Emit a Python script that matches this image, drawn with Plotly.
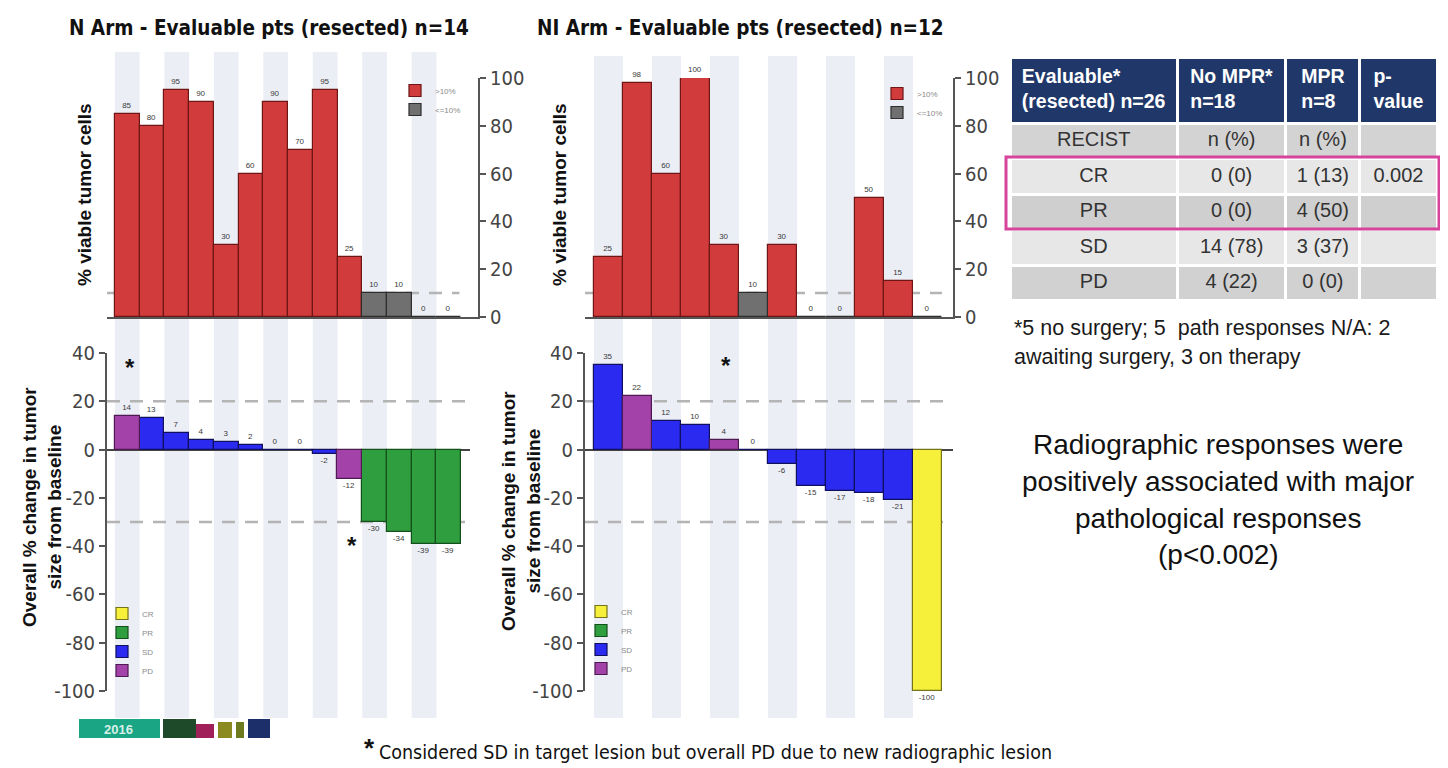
import plotly.graph_objects as go

# figure is placed by the page at (8, 8); coordinates below are page pixels
OFF = 8
W, H = 1440, 760
def px(x): return (x - OFF) / W
def py(y): return 1 - (y - OFF) / H

# ---------------- data ----------------
n_patients = list(range(14))
n_viable = [85, 80, 95, 90, 30, 60, 90, 70, 95, 25, 10, 10, 0, 0]
n_change = [14, 13, 7, 4, 3, 2, 0, 0, -2, -12, -30, -34, -39, -39]
n_recist = ["PD", "SD", "SD", "SD", "SD", "SD", "SD", "SD", "SD", "PD", "PR", "PR", "PR", "PR"]

ni_patients = list(range(12))
ni_viable = [25, 98, 60, 100, 30, 10, 30, 0, 0, 50, 15, 0]
ni_change = [35, 22, 12, 10, 4, 0, -6, -15, -17, -18, -21, -100]
ni_recist = ["SD", "PD", "SD", "SD", "PD", "SD", "SD", "SD", "SD", "SD", "SD", "CR"]

viable_cut = 10
recist_order = ["CR", "PR", "SD", "PD"]
viable_ticks = [0, 20, 40, 60, 80, 100]
change_ticks = [-100, -80, -60, -40, -20, 0, 20, 40]

table_header = ["Evaluable*<br>(resected) n=26", "No MPR*<br>n=18", "MPR<br>n=8", "p-<br>value"]
table_rows = ["RECIST", "CR", "PR", "SD", "PD"]
table_no_mpr = ["n (%)", "0 (0)", "0 (0)", "14 (78)", "4 (22)"]
table_mpr = ["n (%)", "1 (13)", "4 (50)", "3 (37)", "0 (0)"]
table_p = ["", "0.002", "", "", ""]

# ---------------- styles ----------------
FONT = "Arial, 'Liberation Sans', sans-serif"
NARROW = "'Liberation Sans Narrow', 'Arial Narrow', 'DejaVu Sans Condensed', Arial, sans-serif"
path_colors = {">10%": ("#d23b3b", "#6e1515"), "<=10%": ("#707070", "#2e2e2e")}
recist_colors = {"CR": ("#f6f03a", "#76741a"), "PR": ("#2f9e3e", "#14501c"),
                 "SD": ("#2a2af0", "#10105e"), "PD": ("#a342a8", "#4e1a52")}
label_font = dict(size=8, color="#3a3a3a", family=FONT)

fig = go.Figure()

def add_path(xs, vals, xa, ya, leg):
    for name in [">10%", "<=10%"]:
        keep = [(v > viable_cut) == (name == ">10%") for v in vals]
        ys = [v if k else None for v, k in zip(vals, keep)]
        ts = [str(v) if k else "" for v, k in zip(vals, keep)]
        fc, lc = path_colors[name]
        fig.add_trace(go.Bar(x=xs, y=ys, name=name, xaxis=xa, yaxis=ya, legend=leg,
                             marker=dict(color=fc, line=dict(color=lc, width=1.2)),
                             text=ts, textposition="outside", textfont=label_font,
                             constraintext="none", cliponaxis=False, width=1))

def add_resp(xs, vals, cats, xa, ya, leg):
    for name in recist_order:
        ys = [v if c == name else None for v, c in zip(vals, cats)]
        ts = [str(v) if c == name else "" for v, c in zip(vals, cats)]
        fc, lc = recist_colors[name]
        fig.add_trace(go.Bar(x=xs, y=ys, name=name, xaxis=xa, yaxis=ya, legend=leg,
                             marker=dict(color=fc, line=dict(color=lc, width=1.2)),
                             text=ts, textposition="outside", textfont=label_font,
                             constraintext="none", cliponaxis=False, width=1))

add_path(n_patients, n_viable, "x", "y", "legend")
add_path(ni_patients, ni_viable, "x2", "y2", "legend2")
add_resp(n_patients, n_change, n_recist, "x3", "y3", "legend3")
add_resp(ni_patients, ni_change, ni_recist, "x4", "y4", "legend4")

# table
fill_rows = ["#d3d3d3", "#e7e7e7", "#cfcfcf", "#e7e7e7", "#d1d1d1"]
fig.add_trace(go.Table(
    domain=dict(x=[px(1010), px(1437)], y=[py(302), py(57)]),
    columnwidth=[165, 107, 73, 76],
    header=dict(values=["<b>%s</b>" % h for h in table_header], fill_color="#1f3869",
                font=dict(color="white", size=19.5, family=FONT), height=66, align="center",
                line=dict(color="white", width=3)),
    cells=dict(values=[table_rows, table_no_mpr, table_mpr, table_p],
               fill_color=[fill_rows] * 4, height=35.5, align="center",
               font=dict(size=20, color="#333333", family=FONT),
               line=dict(color="white", width=3)),
))

# ---------------- axes ----------------
top_dom = [py(317), py(78)]
bot_dom = [py(691), py(353)]
ytick = dict(color="#444444", size=20, family=NARROW)
xcommon = dict(showgrid=False, zeroline=False, fixedrange=True, automargin=False,
               showticklabels=False, ticks="", linecolor="#555555", linewidth=2)
ycommon = dict(showgrid=False, fixedrange=True, automargin=False, showline=True,
               linecolor="#555555", linewidth=2, ticks="outside", ticklen=6, tickwidth=2,
               tickcolor="#555555", tickfont=ytick)
fig.update_layout(
    xaxis=dict(domain=[px(107), px(478)], range=[-0.82, 14.18], anchor="y", showline=True, **xcommon),
    yaxis=dict(domain=top_dom, range=[0, 100], anchor="x", side="right", zeroline=False,
               tickvals=viable_ticks, ticktext=[str(t) for t in viable_ticks], **ycommon),
    xaxis2=dict(domain=[px(585), px(953)], range=[-0.81, 11.88], anchor="y2", showline=True, **xcommon),
    yaxis2=dict(domain=top_dom, range=[0, 100], anchor="x2", side="right", zeroline=False,
                tickvals=viable_ticks, ticktext=[str(t) for t in viable_ticks], **ycommon),
    xaxis3=dict(domain=[px(107), px(470)], range=[-0.82, 13.86], anchor="y3", showline=False, **xcommon),
    yaxis3=dict(domain=bot_dom, range=[-100, 40], anchor="x3", side="left",
                tickvals=change_ticks, ticktext=[str(t) for t in change_ticks],
                zeroline=True, zerolinecolor="#444444", zerolinewidth=2, **ycommon),
    xaxis4=dict(domain=[px(585), px(953)], range=[-0.81, 11.88], anchor="y4", showline=False, **xcommon),
    yaxis4=dict(domain=bot_dom, range=[-100, 40], anchor="x4", side="left",
                tickvals=change_ticks, ticktext=[str(t) for t in change_ticks],
                zeroline=True, zerolinecolor="#444444", zerolinewidth=2, **ycommon),
)

leg_common = dict(bgcolor="rgba(0,0,0,0)", borderwidth=0, font=dict(size=8, color="#8a8a8a", family=FONT),
                  xanchor="left", yanchor="top", tracegroupgap=0, itemclick=False)
fig.update_layout(
    legend=dict(x=px(395), y=py(76), **leg_common),
    legend2=dict(x=px(877), y=py(79), **leg_common),
    legend3=dict(x=px(102), y=py(599), **leg_common),
    legend4=dict(x=px(581), y=py(597), **leg_common),
)

# ---------------- shapes ----------------
shapes = []
stripe = "#eceef6"
for i in n_patients[::2]:
    shapes.append(dict(type="rect", xref="x", yref="paper", x0=i - 0.5, x1=i + 0.5,
                       y0=py(718), y1=py(52), fillcolor=stripe, line=dict(width=0), layer="below"))
for i in ni_patients[::2]:
    shapes.append(dict(type="rect", xref="x2", yref="paper", x0=i - 0.5, x1=i + 0.5,
                       y0=py(718), y1=py(56), fillcolor=stripe, line=dict(width=0), layer="below"))
dash = dict(color="#b4b4b4", width=2.5, dash="13px,10px")
for xr, yr, lvl, x1 in [("x", "y", viable_cut, 0.95), ("x2", "y2", viable_cut, 0.97),
                        ("x3", "y3", 20, 1), ("x3", "y3", -30, 1), ("x4", "y4", 20, 1), ("x4", "y4", -30, 1)]:
    shapes.append(dict(type="line", xref=xr + " domain", yref=yr, x0=0, x1=x1, y0=lvl, y1=lvl,
                       line=dash, layer="below"))
# table highlight
shapes.append(dict(type="rect", xref="paper", yref="paper", x0=px(1006), x1=px(1439),
                   y0=py(229), y1=py(157), line=dict(color="#d6449b", width=3)))
# cropped congress logo
logo = [(79, 160, 719, "#1aa584"), (163, 196, 719, "#1f4a2a"), (196, 214, 724, "#a0205a"),
        (218, 232, 722, "#8a8a20"), (236, 244, 722, "#6e7a1e"), (248, 270, 719, "#1c2f6a")]
for x0, x1, y1, c in logo:
    shapes.append(dict(type="rect", xref="paper", yref="paper", x0=px(x0), x1=px(x1),
                       y0=py(738), y1=py(y1), fillcolor=c, line=dict(width=0)))
fig.update_layout(shapes=shapes)

# ---------------- annotations ----------------
ann = []
def A(text, x, y, size, color="#111111", family=FONT, xanchor="center", yanchor="middle", **kw):
    ann.append(dict(text=text, x=px(x), y=py(y), xref="paper", yref="paper", showarrow=False,
                    xanchor=xanchor, yanchor=yanchor, font=dict(size=size, color=color, family=family), **kw))

A("<b>N Arm - Evaluable pts (resected) n=14</b>", 67, 28, 20.5, family=NARROW, xanchor="left")
A("<b>NI Arm - Evaluable pts (resected) n=12</b>", 535, 28, 20.5, family=NARROW, xanchor="left")
A("<b>% viable tumor cells</b>", 85, 195, 19, textangle=-90)
A("<b>% viable tumor cells</b>", 560, 195, 19, textangle=-90)
A("<b>Overall % change in tumor<br>size from baseline</b>", 42, 507, 19, textangle=-90)
A("<b>Overall % change in tumor<br>size from baseline</b>", 521, 511, 19, textangle=-90)
A("*5 no surgery; 5  path responses N/A: 2", 1012, 328, 21.5, color="#1a1a1a", xanchor="left")
A("awaiting surgery, 3 on therapy", 1012, 357, 21.5, color="#1a1a1a", xanchor="left")
for t, yy in [("Radiographic responses were", 444), ("positively associated with major", 481),
              ("pathological responses", 518), ("(p<0.002)", 554)]:
    A(t, 1218, yy, 28, color="#111111")
A("<b>*</b>", 369, 748, 26, color="#111111")
A("Considered SD in target lesion but overall PD due to new radiographic lesion", 377, 752, 19.5,
  color="#111111", family=NARROW, xanchor="left")
A("<b>*</b>", 130, 367, 24)
A("<b>*</b>", 352, 545, 24)
A("<b>*</b>", 726, 365, 24)
A("<b>2016</b>", 118, 729, 13, color="#d8f0e8")
fig.update_layout(annotations=ann)

fig.update_layout(width=W, height=H, margin=dict(l=0, r=0, t=0, b=0, autoexpand=False),
                  paper_bgcolor="white", plot_bgcolor="rgba(0,0,0,0)", barmode="overlay", bargap=0,
                  font=dict(family=FONT), showlegend=True)

fig.write_html("out.html")
